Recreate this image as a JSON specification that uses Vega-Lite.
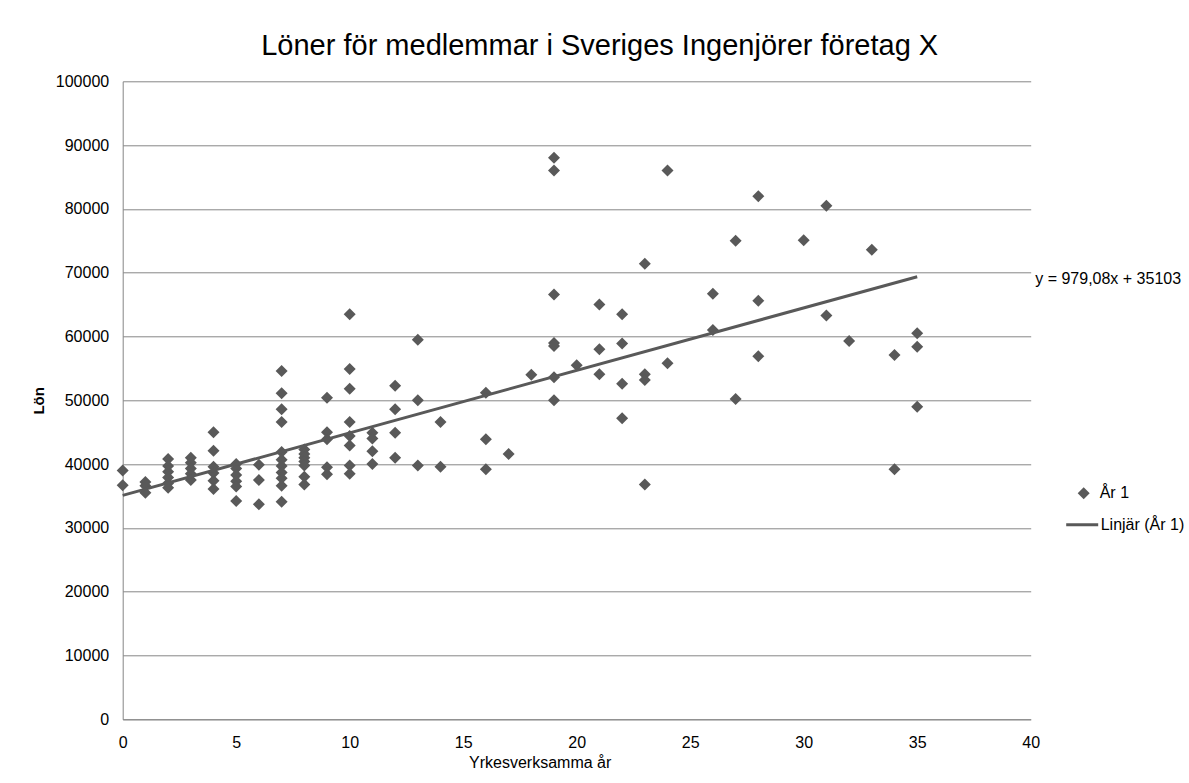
{
  "$schema": "https://vega.github.io/schema/vega-lite/v6.json",
  "width": 908,
  "height": 638,
  "autosize": {"type": "none"},
  "padding": {"left": 122.7, "top": 81.3, "right": 158.3, "bottom": 63.7},
  "background": "white",
  "title": {
    "text": "Löner för medlemmar i Sveriges Ingenjörer företag X",
    "font": "Liberation Sans",
    "fontSize": 29,
    "fontWeight": "normal",
    "color": "#000000",
    "anchor": "middle",
    "offset": 12,
    "dx": 23
  },
  "config": {
    "view": {"stroke": null},
    "axis": {
      "labelFont": "Liberation Sans",
      "titleFont": "Liberation Sans",
      "labelColor": "#000000",
      "titleColor": "#000000",
      "domainColor": "#868686",
      "gridColor": "#868686",
      "ticks": false,
      "labelFlush": false
    }
  },
  "datasets": {
    "punkter": [
      {"ar": 0, "lon": 39000, "serie": "År 1"},
      {"ar": 0, "lon": 36700, "serie": "År 1"},
      {"ar": 1, "lon": 37200, "serie": "År 1"},
      {"ar": 1, "lon": 36600, "serie": "År 1"},
      {"ar": 1, "lon": 35500, "serie": "År 1"},
      {"ar": 2, "lon": 40800, "serie": "År 1"},
      {"ar": 2, "lon": 39700, "serie": "År 1"},
      {"ar": 2, "lon": 38800, "serie": "År 1"},
      {"ar": 2, "lon": 37900, "serie": "År 1"},
      {"ar": 2, "lon": 37000, "serie": "År 1"},
      {"ar": 2, "lon": 36300, "serie": "År 1"},
      {"ar": 3, "lon": 41000, "serie": "År 1"},
      {"ar": 3, "lon": 40200, "serie": "År 1"},
      {"ar": 3, "lon": 39300, "serie": "År 1"},
      {"ar": 3, "lon": 38500, "serie": "År 1"},
      {"ar": 3, "lon": 37500, "serie": "År 1"},
      {"ar": 4, "lon": 45000, "serie": "År 1"},
      {"ar": 4, "lon": 42100, "serie": "År 1"},
      {"ar": 4, "lon": 39600, "serie": "År 1"},
      {"ar": 4, "lon": 38600, "serie": "År 1"},
      {"ar": 4, "lon": 37400, "serie": "År 1"},
      {"ar": 4, "lon": 36100, "serie": "År 1"},
      {"ar": 5, "lon": 40000, "serie": "År 1"},
      {"ar": 5, "lon": 39300, "serie": "År 1"},
      {"ar": 5, "lon": 38300, "serie": "År 1"},
      {"ar": 5, "lon": 37300, "serie": "År 1"},
      {"ar": 5, "lon": 36500, "serie": "År 1"},
      {"ar": 5, "lon": 34200, "serie": "År 1"},
      {"ar": 6, "lon": 39900, "serie": "År 1"},
      {"ar": 6, "lon": 37500, "serie": "År 1"},
      {"ar": 6, "lon": 33700, "serie": "År 1"},
      {"ar": 7, "lon": 54600, "serie": "År 1"},
      {"ar": 7, "lon": 51100, "serie": "År 1"},
      {"ar": 7, "lon": 48600, "serie": "År 1"},
      {"ar": 7, "lon": 46600, "serie": "År 1"},
      {"ar": 7, "lon": 41900, "serie": "År 1"},
      {"ar": 7, "lon": 40700, "serie": "År 1"},
      {"ar": 7, "lon": 39700, "serie": "År 1"},
      {"ar": 7, "lon": 38700, "serie": "År 1"},
      {"ar": 7, "lon": 37800, "serie": "År 1"},
      {"ar": 7, "lon": 36600, "serie": "År 1"},
      {"ar": 7, "lon": 34100, "serie": "År 1"},
      {"ar": 8, "lon": 42300, "serie": "År 1"},
      {"ar": 8, "lon": 41600, "serie": "År 1"},
      {"ar": 8, "lon": 41000, "serie": "År 1"},
      {"ar": 8, "lon": 40400, "serie": "År 1"},
      {"ar": 8, "lon": 39800, "serie": "År 1"},
      {"ar": 8, "lon": 38000, "serie": "År 1"},
      {"ar": 8, "lon": 36800, "serie": "År 1"},
      {"ar": 9, "lon": 50400, "serie": "År 1"},
      {"ar": 9, "lon": 45000, "serie": "År 1"},
      {"ar": 9, "lon": 43900, "serie": "År 1"},
      {"ar": 9, "lon": 39500, "serie": "År 1"},
      {"ar": 9, "lon": 38400, "serie": "År 1"},
      {"ar": 10, "lon": 63500, "serie": "År 1"},
      {"ar": 10, "lon": 54900, "serie": "År 1"},
      {"ar": 10, "lon": 51800, "serie": "År 1"},
      {"ar": 10, "lon": 46600, "serie": "År 1"},
      {"ar": 10, "lon": 44400, "serie": "År 1"},
      {"ar": 10, "lon": 42900, "serie": "År 1"},
      {"ar": 10, "lon": 39800, "serie": "År 1"},
      {"ar": 10, "lon": 38500, "serie": "År 1"},
      {"ar": 11, "lon": 44900, "serie": "År 1"},
      {"ar": 11, "lon": 44000, "serie": "År 1"},
      {"ar": 11, "lon": 42000, "serie": "År 1"},
      {"ar": 11, "lon": 40000, "serie": "År 1"},
      {"ar": 12, "lon": 52300, "serie": "År 1"},
      {"ar": 12, "lon": 48600, "serie": "År 1"},
      {"ar": 12, "lon": 44900, "serie": "År 1"},
      {"ar": 12, "lon": 41000, "serie": "År 1"},
      {"ar": 13, "lon": 59500, "serie": "År 1"},
      {"ar": 13, "lon": 50000, "serie": "År 1"},
      {"ar": 13, "lon": 39800, "serie": "År 1"},
      {"ar": 14, "lon": 46600, "serie": "År 1"},
      {"ar": 14, "lon": 39600, "serie": "År 1"},
      {"ar": 16, "lon": 51200, "serie": "År 1"},
      {"ar": 16, "lon": 43900, "serie": "År 1"},
      {"ar": 16, "lon": 39200, "serie": "År 1"},
      {"ar": 17, "lon": 41600, "serie": "År 1"},
      {"ar": 18, "lon": 54000, "serie": "År 1"},
      {"ar": 19, "lon": 88000, "serie": "År 1"},
      {"ar": 19, "lon": 86000, "serie": "År 1"},
      {"ar": 19, "lon": 66600, "serie": "År 1"},
      {"ar": 19, "lon": 59000, "serie": "År 1"},
      {"ar": 19, "lon": 58500, "serie": "År 1"},
      {"ar": 19, "lon": 53600, "serie": "År 1"},
      {"ar": 19, "lon": 50000, "serie": "År 1"},
      {"ar": 20, "lon": 55500, "serie": "År 1"},
      {"ar": 21, "lon": 65000, "serie": "År 1"},
      {"ar": 21, "lon": 58000, "serie": "År 1"},
      {"ar": 21, "lon": 54100, "serie": "År 1"},
      {"ar": 22, "lon": 63500, "serie": "År 1"},
      {"ar": 22, "lon": 58900, "serie": "År 1"},
      {"ar": 22, "lon": 52600, "serie": "År 1"},
      {"ar": 22, "lon": 47200, "serie": "År 1"},
      {"ar": 23, "lon": 71400, "serie": "År 1"},
      {"ar": 23, "lon": 54100, "serie": "År 1"},
      {"ar": 23, "lon": 53200, "serie": "År 1"},
      {"ar": 23, "lon": 36800, "serie": "År 1"},
      {"ar": 24, "lon": 86000, "serie": "År 1"},
      {"ar": 24, "lon": 55800, "serie": "År 1"},
      {"ar": 26, "lon": 66700, "serie": "År 1"},
      {"ar": 26, "lon": 61000, "serie": "År 1"},
      {"ar": 27, "lon": 75000, "serie": "År 1"},
      {"ar": 27, "lon": 50200, "serie": "År 1"},
      {"ar": 28, "lon": 82000, "serie": "År 1"},
      {"ar": 28, "lon": 65600, "serie": "År 1"},
      {"ar": 28, "lon": 56900, "serie": "År 1"},
      {"ar": 30, "lon": 75100, "serie": "År 1"},
      {"ar": 31, "lon": 80500, "serie": "År 1"},
      {"ar": 31, "lon": 63300, "serie": "År 1"},
      {"ar": 32, "lon": 59300, "serie": "År 1"},
      {"ar": 33, "lon": 73600, "serie": "År 1"},
      {"ar": 34, "lon": 57100, "serie": "År 1"},
      {"ar": 34, "lon": 39200, "serie": "År 1"},
      {"ar": 35, "lon": 60500, "serie": "År 1"},
      {"ar": 35, "lon": 58400, "serie": "År 1"},
      {"ar": 35, "lon": 49000, "serie": "År 1"}
    ],
    "trend": [
      {"ar": 0, "lon": 35103, "trendserie": "Linjär (År 1)", "etikett": "y = 979,08x + 35103"},
      {"ar": 35, "lon": 69371, "trendserie": "Linjär (År 1)", "etikett": "y = 979,08x + 35103"}
    ]
  },
  "layer": [
    {
      "data": {"name": "punkter"},
      "mark": {"type": "point", "filled": true, "color": "#595959", "opacity": 1, "size": 900},
      "encoding": {
        "x": {
          "field": "ar",
          "type": "quantitative",
          "scale": {"domain": [0, 40], "nice": false},
          "axis": {
            "title": "Yrkesverksamma år",
            "values": [0, 5, 10, 15, 20, 25, 30, 35, 40],
            "grid": false,
            "labelFontSize": 16,
            "labelPadding": 15,
            "titleFontSize": 16,
            "titleFontWeight": "normal",
            "titlePadding": 4,
            "titleX": 417
          }
        },
        "y": {
          "field": "lon",
          "type": "quantitative",
          "scale": {"domain": [0, 100000], "nice": false},
          "axis": {
            "title": "Lön",
            "values": [0, 10000, 20000, 30000, 40000, 50000, 60000, 70000, 80000, 90000, 100000],
            "grid": true,
            "format": "d",
            "labelFontSize": 16,
            "labelPadding": 14,
            "titleFontSize": 15,
            "titleFontWeight": "bold",
            "titlePadding": 9
          }
        },
        "shape": {
          "field": "serie",
          "type": "nominal",
          "scale": {
            "domain": ["År 1"],
            "range": ["M0,-0.4L0.4,0L0,0.4L-0.4,0Z"]
          },
          "legend": {
            "title": null,
            "orient": "none",
            "legendX": 945,
            "legendY": 396,
            "padding": 0,
            "symbolSize": 900,
            "labelOffset": 0,
            "labelFont": "Liberation Sans",
            "labelFontSize": 16,
            "labelColor": "#000000"
          }
        }
      }
    },
    {
      "data": {"name": "trend"},
      "mark": {"type": "line", "strokeWidth": 3},
      "encoding": {
        "x": {"field": "ar", "type": "quantitative"},
        "y": {"field": "lon", "type": "quantitative"},
        "color": {
          "field": "trendserie",
          "type": "nominal",
          "scale": {"domain": ["Linjär (År 1)"], "range": ["#595959"]},
          "legend": {
            "title": null,
            "orient": "none",
            "legendX": 942,
            "legendY": 426,
            "padding": 0,
            "symbolType": "stroke",
            "symbolSize": 1024,
            "symbolStrokeWidth": 3,
            "labelOffset": 1,
            "labelFont": "Liberation Sans",
            "labelFontSize": 16,
            "labelColor": "#000000"
          }
        }
      }
    },
    {
      "data": {"name": "trend"},
      "transform": [{"filter": "datum.ar == 35"}],
      "mark": {"type": "text", "align": "left", "baseline": "middle", "dx": 118, "dy": 2, "font": "Liberation Sans", "fontSize": 16, "color": "#000000"},
      "encoding": {
        "x": {"field": "ar", "type": "quantitative"},
        "y": {"field": "lon", "type": "quantitative"},
        "text": {"field": "etikett"}
      }
    }
  ]
}
